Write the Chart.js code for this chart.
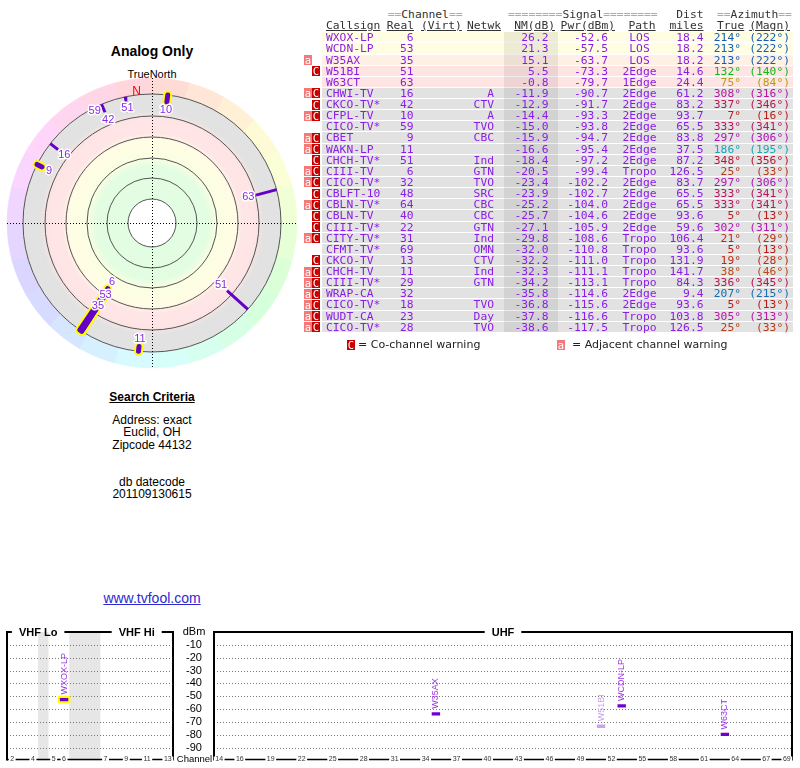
<!DOCTYPE html>
<html>
<head>
<meta charset="utf-8">
<title>Analog Only</title>
<script src="https://cdn.jsdelivr.net/npm/chart.js@4.4.1/dist/chart.umd.min.js"></script>
<style>
  body { margin: 0; background: #fff; font-family: "Liberation Sans", Arial, sans-serif; color: #000; }
  #page { position: relative; width: 800px; height: 768px; overflow: hidden; }
  .abs { position: absolute; white-space: pre; }
  .mid { position: absolute; left: 2px; width: 300px; text-align: center; white-space: pre; }
  canvas { position: absolute; }
  .mono { font-family: "DejaVu Sans Mono", monospace; font-size: 11.3px; line-height: 11.13px; }
  .box { position: absolute; width: 8px; height: 10px; color: #fff; text-align: center;
         font-family: "DejaVu Sans Mono", monospace; font-size: 10.5px; line-height: 10px; }
</style>
</head>
<body>
<div id="page">
  <div class="mid" style="top:43px;font-size:14px;font-weight:bold;line-height:16px">Analog Only</div>
  <div class="mid" style="top:68px;font-size:11px;line-height:13px">TrueNorth</div>
  <canvas id="polarChart" width="300" height="300" style="left:2px;top:73px"></canvas>

  <div class="mid" style="top:390px;font-size:12px;font-weight:bold;line-height:14px;text-decoration:underline">Search Criteria</div>
  <div class="mid" style="top:414px;font-size:12px;line-height:12.3px">Address: exact
Euclid, OH
Zipcode 44132</div>
  <div class="mid" style="top:475.5px;font-size:12px;line-height:12px">db datecode
201109130615</div>
  <div class="mid" style="top:590px;font-size:14px;line-height:16px;color:#2a2ad0;text-decoration:underline">www.tvfool.com</div>

  <div id="table"></div>

  <canvas id="vhfChart" width="180" height="148" style="left:0;top:620px"></canvas>
  <canvas id="uhfChart" width="626" height="148" style="left:174px;top:620px"></canvas>
</div>

<script>
/* ============================================
   STATION DATA
============================================ */

const callsigns = ['WXOX-LP', 'WCDN-LP', 'W35AX', 'W51BI', 'W63CT', 'CHWI-TV', 'CKCO-TV*', 'CFPL-TV', 'CICO-TV*',
    'CBET', 'WAKN-LP', 'CHCH-TV*', 'CIII-TV', 'CICO-TV*', 'CBLFT-10', 'CBLN-TV*', 'CBLN-TV', 'CIII-TV*',
    'CITY-TV*', 'CFMT-TV*', 'CKCO-TV', 'CHCH-TV', 'CIII-TV*', 'WRAP-CA', 'CICO-TV*', 'WUDT-CA', 'CICO-TV*'];
const realChannels = [6, 53, 35, 51, 63, 16, 42, 10, 59, 9, 11, 51, 6, 32, 48, 64, 40, 22, 31, 69, 13, 11, 29, 32, 18, 23, 28];
const networks = ['', '', '', '', '', 'A', 'CTV', 'A', 'TVO', 'CBC', '', 'Ind', 'GTN', 'TVO', 'SRC', 'CBC', 'CBC',
    'GTN', 'Ind', 'OMN', 'CTV', 'Ind', 'GTN', '', 'TVO', 'Day', 'TVO'];
const nmDb = [26.2, 21.3, 15.1, 5.5, -0.8, -11.9, -12.9, -14.4, -15.0, -15.9, -16.6, -18.4, -20.5, -23.4, -23.9,
    -25.2, -25.7, -27.1, -29.8, -32.0, -32.2, -32.3, -34.2, -35.8, -36.8, -37.8, -38.6];
const pwrDbm = [-52.6, -57.5, -63.7, -73.3, -79.7, -90.7, -91.7, -93.3, -93.8, -94.7, -95.4, -97.2, -99.4, -102.2,
    -102.7, -104.0, -104.6, -105.9, -108.6, -110.8, -111.0, -111.1, -113.1, -114.6, -115.6, -116.6, -117.5];
const paths = ['LOS', 'LOS', 'LOS', '2Edge', '1Edge', '2Edge', '2Edge', '2Edge', '2Edge', '2Edge', '2Edge', '2Edge',
    'Tropo', '2Edge', '2Edge', '2Edge', '2Edge', '2Edge', 'Tropo', 'Tropo', 'Tropo', 'Tropo', 'Tropo', '2Edge',
    '2Edge', 'Tropo', 'Tropo'];
const distMiles = [18.4, 18.2, 18.2, 14.6, 24.4, 61.2, 83.2, 93.7, 65.5, 83.8, 37.5, 87.2, 126.5, 83.7, 65.5, 65.5,
    93.6, 59.6, 106.4, 93.6, 131.9, 141.7, 84.3, 9.4, 93.6, 103.8, 126.5];
const azTrue = [214, 213, 213, 132, 75, 308, 337, 7, 333, 297, 186, 348, 25, 297, 333, 333, 5, 302, 21, 5, 19, 38,
    336, 207, 5, 305, 25];
const azMagn = [222, 222, 222, 140, 84, 316, 346, 16, 341, 306, 195, 356, 33, 306, 341, 341, 13, 311, 29, 13, 28,
    46, 345, 215, 13, 313, 33];
const warnings = ['', '', 'a', 'C', '', 'aC', 'C', 'aC', '', 'aC', 'aC', 'C', 'aC', 'aC', 'C', 'aC', 'C', 'C', 'aC',
    '', 'C', 'aC', 'aC', 'aC', 'aC', 'aC', 'aC'];
const analog = [1, 1, 1, 0, 0, 0, 0, 1, 0, 1, 1, 0, 0, 0, 0, 0, 0, 0, 0, 0, 0, 0, 0, 0, 0, 0, 0];

// spectrum panels
const vhfSlots = ['2', '3', '4', '', '5', '6', '', '', '', '7', '8', '9', '10', '11', '12', '13'];
const vhfTicks = ['2', '4', '5', '6', '7', '9', '11', '13'];
const uhfTicks = [14, 16, 19, 22, 25, 28, 31, 34, 37, 40, 43, 46, 49, 52, 55, 58, 61, 64, 67, 69];
const dbmTicks = [-10, -20, -30, -40, -50, -60, -70, -80, -90];
const specHalo = ['WXOX-LP'];

/* ============================================
   TABLE
============================================ */

const ROW_TOP = 32.3;
const ROW_H = 11.13;
const TXT = '#8a1ee6';

function azColor(az) {
    // warm hues are pulled a little toward orange / gold
    const h = az < 150 ? az - 25 * Math.sin(Math.PI * az / 150) : az;
    return `hsl(${h.toFixed(0)}, 78%, 40%)`;
}

function rowBg(nm) {
    if (nm > 20) return '#fffee2';
    if (nm > 10) return '#fff0e4';
    if (nm > -2) return '#ffe4e4';
    return '#e2e2e2';
}

function span(parent, text, x, top, align, style) {
    const s = document.createElement('div');
    s.className = 'abs mono';
    s.textContent = text;
    s.style.top = top + 'px';
    if (align === 'left') {
        s.style.left = x + 'px';
    } else if (align === 'right') {
        s.style.left = (x - 150) + 'px';
        s.style.width = '150px';
        s.style.textAlign = 'right';
    } else {
        s.style.left = (x - 75) + 'px';
        s.style.width = '150px';
        s.style.textAlign = 'center';
    }
    Object.assign(s.style, style || {});
    parent.appendChild(s);
    return s;
}

function buildTable() {
    const t = document.getElementById('table');

    // header line 1
    const h1 = 8.8;
    const dark = { color: '#333' };
    const c1 = span(t, '', 387.7, h1, 'left');
    c1.innerHTML = '<span style="color:#aaa">==</span><span style="color:#333">Channel</span><span style="color:#aaa">==</span>';
    const c2 = span(t, '', 508, h1, 'left');
    c2.innerHTML = '<span style="color:#aaa">========</span><span style="color:#333">Signal</span><span style="color:#aaa">========</span>';
    span(t, 'Dist', 703.5, h1, 'right', dark);
    const c3 = span(t, '', 717, h1, 'left');
    c3.innerHTML = '<span style="color:#aaa">==</span><span style="color:#333">Azimuth</span><span style="color:#aaa">==</span>';

    // header line 2
    const h2 = 19.8;
    const ul = { color: '#333', textDecoration: 'underline' };
    span(t, 'Callsign', 326, h2, 'left', ul);
    span(t, 'Real', 414, h2, 'right', ul);
    span(t, '(Virt)', 421, h2, 'left', ul);
    span(t, 'Netwk', 501, h2, 'right', ul);
    span(t, 'NM(dB)', 555, h2, 'right', ul);
    span(t, 'Pwr(dBm)', 615, h2, 'right', ul);
    span(t, 'Path', 642, h2, 'center', ul);
    span(t, 'miles', 703.5, h2, 'right', ul);
    span(t, 'True', 717, h2, 'left', ul);
    span(t, '(Magn)', 790, h2, 'right', ul);

    // row backgrounds
    callsigns.forEach((cs, i) => {
        const bg = document.createElement('div');
        bg.className = 'abs';
        Object.assign(bg.style, {
            left: '322px', width: '471px', top: (ROW_TOP + i * ROW_H) + 'px',
            height: (ROW_H - 1) + 'px', background: rowBg(nmDb[i])
        });
        t.appendChild(bg);
    });

    // NM column shading
    const sh = document.createElement('div');
    sh.className = 'abs';
    Object.assign(sh.style, {
        left: '504px', width: '54px', top: ROW_TOP + 'px',
        height: (callsigns.length * ROW_H - 1) + 'px', background: 'rgba(0,0,0,0.07)'
    });
    t.appendChild(sh);

    // row text + warning boxes
    callsigns.forEach((cs, i) => {
        const top = ROW_TOP + i * ROW_H;
        const st = { color: TXT };
        span(t, cs, 326, top, 'left', st);
        span(t, String(realChannels[i]), 413.5, top, 'right', st);
        span(t, networks[i], 494, top, 'right', st);
        span(t, nmDb[i].toFixed(1), 548.5, top, 'right', st);
        span(t, pwrDbm[i].toFixed(1), 608, top, 'right', st);
        span(t, paths[i], 639.5, top, 'center', st);
        span(t, distMiles[i].toFixed(1), 703.5, top, 'right', st);
        span(t, azTrue[i] + '\u00b0', 741, top, 'right', { color: azColor(azTrue[i]) });
        span(t, '(' + azMagn[i] + '\u00b0)', 790, top, 'right', { color: azColor(azTrue[i]) });

        if (warnings[i].includes('a')) addBox(t, 'a', 304, top + 0.5, '#f47a7a');
        if (warnings[i].includes('C')) addBox(t, 'C', 312, top + 0.5, '#c80000');
    });

    // legend
    addBox(t, 'C', 347, 340, '#c80000');
    legendText(t, '= Co-channel warning', 358);
    addBox(t, 'a', 557, 340, '#f47a7a');
    legendText(t, '= Adjacent channel warning', 572);
}

function addBox(parent, letter, x, top, color) {
    const b = document.createElement('div');
    b.className = 'box';
    b.textContent = letter;
    Object.assign(b.style, { left: x + 'px', top: top + 'px', background: color });
    parent.appendChild(b);
}

function legendText(parent, text, x) {
    const d = document.createElement('div');
    d.className = 'abs';
    d.textContent = text;
    Object.assign(d.style, {
        left: x + 'px', top: '338px', fontFamily: '"DejaVu Sans", sans-serif',
        fontSize: '11px', lineHeight: '14px', color: '#222'
    });
    parent.appendChild(d);
}

buildTable();

/* ============================================
   POLAR PLOT (Chart.js scatter, units = px)
============================================ */

const R_OUTER = 129;
const RING_EDGE = 145;
const PWR_FLOOR = -100;
const PX_PER_DB = 1.05;
const WHEEL_STEP = 15;
const ringRadii = [24, 45, 65, 86, 107, 129];
const bandStops = [[0, '#ffffff'], [23.5, '#ffffff'], [24, '#e2fde2'], [56, '#e2fde2'], [66, '#fbfee2'],
    [83, '#fffde4'], [90, '#ffe6e6'], [104, '#ffe4e4'], [112, '#e2e2e2'], [129, '#e2e2e2']];

function polarXY(az, r) {
    const a = az * Math.PI / 180;
    return { x: r * Math.sin(a), y: r * Math.cos(a) };
}

function innerRadius(i) {
    return R_OUTER - (pwrDbm[i] - PWR_FLOOR) * PX_PER_DB;
}

const polarIdx = nmDb.map((v, i) => i).filter(i => nmDb[i] > -20);

const polarSets = [];
polarIdx.forEach(i => {
    const pts = [polarXY(azTrue[i], R_OUTER), polarXY(azTrue[i], innerRadius(i))];
    if (analog[i]) {
        polarSets.push({
            data: pts, showLine: true, borderColor: '#ffff00', borderWidth: 9,
            borderCapStyle: 'round', pointRadius: 0, order: 2
        });
    }
    polarSets.push({
        data: pts, showLine: true, borderColor: '#6400c8', borderWidth: analog[i] ? 5 : 3,
        borderCapStyle: analog[i] ? 'round' : 'butt', pointRadius: 0, order: 1
    });
});

// label radii, pushed outward when two labels collide
const polarLabels = polarIdx.map(i => ({ i, az: azTrue[i], r: innerRadius(i) - 8 }))
    .sort((a, b) => a.r - b.r);
(function placeLabels() {
    const placed = [];
    polarLabels.forEach(L => {
        let moved = true;
        while (moved) {
            moved = false;
            for (const P of placed) {
                const a = polarXY(L.az, L.r), b = polarXY(P.az, P.r);
                if (Math.hypot(a.x - b.x, a.y - b.y) < 12) {
                    L.r = P.r + 14;
                    moved = true;
                }
            }
        }
        placed.push(L);
    });
})();

const polarBackdrop = {
    id: 'polarBackdrop',
    beforeDatasetsDraw(chart) {
        const { ctx, scales: { x, y } } = chart;
        const cx = x.getPixelForValue(0), cy = y.getPixelForValue(0);
        const k = x.getPixelForValue(1) - cx;
        ctx.save();

        // compass colour wheel
        for (let az = 0; az < 360; az += WHEEL_STEP) {
            const a0 = (az - 90) * Math.PI / 180;
            const a1 = (az + WHEEL_STEP - 90) * Math.PI / 180;
            const col = `hsl(${az + WHEEL_STEP / 2}, 100%, 92%)`;
            ctx.beginPath();
            ctx.arc(cx, cy, RING_EDGE * k, a0, a1);
            ctx.arc(cx, cy, R_OUTER * k, a1, a0, true);
            ctx.closePath();
            ctx.fillStyle = col;
            ctx.strokeStyle = col;
            ctx.lineWidth = 0.6;
            ctx.fill();
            ctx.stroke();
        }

        // signal bands
        const g = ctx.createRadialGradient(cx, cy, 0, cx, cy, R_OUTER * k);
        bandStops.forEach(([r, c]) => g.addColorStop(r / R_OUTER, c));
        ctx.beginPath();
        ctx.arc(cx, cy, R_OUTER * k, 0, 2 * Math.PI);
        ctx.fillStyle = g;
        ctx.fill();

        // range rings
        ctx.strokeStyle = '#555';
        ctx.lineWidth = 1;
        ringRadii.forEach(r => {
            ctx.beginPath();
            ctx.arc(cx, cy, r * k, 0, 2 * Math.PI);
            ctx.stroke();
        });

        // dotted cross
        ctx.strokeStyle = '#000';
        ctx.setLineDash([1, 2]);
        ctx.beginPath();
        ctx.moveTo(Math.round(cx) + 0.5, cy - RING_EDGE * k);
        ctx.lineTo(Math.round(cx) + 0.5, cy + RING_EDGE * k);
        ctx.moveTo(cx - RING_EDGE * k, Math.round(cy) + 0.5);
        ctx.lineTo(cx + RING_EDGE * k, Math.round(cy) + 0.5);
        ctx.stroke();
        ctx.setLineDash([]);

        // north marker
        ctx.fillStyle = '#ff0000';
        ctx.font = '12px "Liberation Sans"';
        ctx.textAlign = 'center';
        ctx.textBaseline = 'middle';
        ctx.fillText('N', cx - 15.5 * k, cy - 131.5 * k);
        ctx.restore();
    },
    afterDatasetsDraw(chart) {
        const { ctx, scales: { x, y } } = chart;
        ctx.save();
        ctx.font = '11px "Liberation Sans"';
        ctx.textAlign = 'center';
        ctx.textBaseline = 'middle';
        ctx.lineJoin = 'round';
        polarLabels.forEach(L => {
            const p = polarXY(L.az, L.r);
            const px = x.getPixelForValue(p.x), py = y.getPixelForValue(p.y);
            const txt = String(realChannels[L.i]);
            ctx.strokeStyle = '#ffffff';
            ctx.lineWidth = 3;
            ctx.strokeText(txt, px, py);
            ctx.fillStyle = '#8a2be2';
            ctx.fillText(txt, px, py);
        });
        ctx.restore();
    }
};

new Chart(document.getElementById('polarChart'), {
    type: 'scatter',
    data: { datasets: polarSets },
    options: {
        responsive: false,
        animation: false,
        events: [],
        layout: { padding: 0, autoPadding: false },
        scales: {
            x: { type: 'linear', min: -150, max: 150, display: false },
            y: { type: 'linear', min: -150, max: 150, display: false }
        },
        plugins: { legend: { display: false }, tooltip: { enabled: false } }
    },
    plugins: [polarBackdrop]
});

/* ============================================
   SPECTRUM PANELS
============================================ */

const specIdx = nmDb.map((v, i) => i).filter(i => nmDb[i] > -5);

function vhfX(ch) {
    return vhfSlots.indexOf(String(ch)) + 0.5;
}

function specSets(isVhf) {
    const sets = [];
    specIdx.forEach(i => {
        const ch = realChannels[i];
        if ((ch <= 13) !== isVhf) return;
        const pt = [{ x: isVhf ? vhfX(ch) : ch, y: pwrDbm[i] }];
        const faded = warnings[i].includes('C');
        const col = faded ? '#c9a3ee' : '#7000cc';
        if (specHalo.includes(callsigns[i])) {
            sets.push({
                data: pt, pointStyle: 'line', pointRadius: 6.3, pointBorderWidth: 7,
                pointBorderColor: '#ffff00', order: 2
            });
        }
        sets.push({
            data: pt, pointStyle: 'line', pointRadius: 4.2, pointBorderWidth: 3.4,
            pointBorderColor: col, order: 1, stationLabel: callsigns[i],
            labelColor: faded ? '#c9a3ee' : '#9a33e6'
        });
    });
    return sets;
}

function gapRanges() {
    const out = [];
    vhfSlots.forEach((s, i) => {
        if (s !== '') return;
        const last = out[out.length - 1];
        if (last && last[1] === i) last[1] = i + 1;
        else out.push([i, i + 1]);
    });
    return out;
}

const spectrumFrame = {
    id: 'spectrumFrame',
    beforeDatasetsDraw(chart, args, opts) {
        const { ctx, chartArea: a, scales: { x, y } } = chart;
        ctx.save();
        ctx.fillStyle = '#e6e6e6';
        (opts.shaded || []).forEach(([from, to]) => {
            const x0 = x.getPixelForValue(from), x1 = x.getPixelForValue(to);
            ctx.fillRect(x0, a.top, x1 - x0, a.bottom - a.top);
        });
        ctx.strokeStyle = '#777';
        ctx.lineWidth = 1;
        ctx.setLineDash([1, 2]);
        dbmTicks.forEach(v => {
            const py = Math.round(y.getPixelForValue(v)) + 0.5;
            ctx.beginPath();
            ctx.moveTo(a.left, py);
            ctx.lineTo(a.right, py);
            ctx.stroke();
        });
        ctx.restore();
    },
    afterDatasetsDraw(chart, args, opts) {
        const { ctx, chartArea: a, scales: { x, y } } = chart;
        ctx.save();

        // station names, rotated above each marker
        ctx.font = '9px "Liberation Sans"';
        ctx.textAlign = 'left';
        ctx.textBaseline = 'middle';
        chart.data.datasets.forEach((ds, di) => {
            if (!ds.stationLabel) return;
            const el = chart.getDatasetMeta(di).data[0];
            ctx.save();
            ctx.translate(el.x, el.y - 5);
            ctx.rotate(-Math.PI / 2);
            ctx.fillStyle = ds.labelColor;
            ctx.fillText(ds.stationLabel, 0, 0);
            ctx.restore();
        });

        // frame sides
        ctx.strokeStyle = '#000';
        ctx.lineWidth = 2;
        ctx.beginPath();
        ctx.moveTo(a.left, a.top);
        ctx.lineTo(a.left, a.bottom);
        ctx.moveTo(a.right, a.top);
        ctx.lineTo(a.right, a.bottom);
        ctx.stroke();

        // top edge broken by the band titles
        ctx.font = 'bold 11px "Liberation Sans"';
        ctx.textAlign = 'center';
        ctx.textBaseline = 'middle';
        let cur = a.left - 1;
        opts.titles.forEach(t => {
            const tx = x.getPixelForValue(t.at);
            const w = ctx.measureText(t.text).width;
            ctx.beginPath();
            ctx.moveTo(cur, a.top);
            ctx.lineTo(tx - w / 2 - 7, a.top);
            ctx.stroke();
            ctx.fillStyle = '#000';
            ctx.fillText(t.text, tx, a.top + 0.5);
            cur = tx + w / 2 + 7;
        });
        ctx.beginPath();
        ctx.moveTo(cur, a.top);
        ctx.lineTo(a.right + 1, a.top);
        ctx.stroke();

        // channel axis
        const by = y.getPixelForValue(-100) - 1;
        ctx.lineWidth = 1.5;
        ctx.beginPath();
        ctx.moveTo(a.left, by);
        ctx.lineTo(a.right, by);
        ctx.stroke();
        ctx.font = '7px "Liberation Sans"';
        opts.ticks.forEach(tk => {
            const tx = x.getPixelForValue(tk.at);
            const w = ctx.measureText(tk.text).width;
            ctx.fillStyle = '#fff';
            ctx.fillRect(tx - w / 2 - 1.5, by - 3, w + 3, 6);
            ctx.fillStyle = '#333';
            ctx.fillText(tk.text, tx, by);
        });

        // dBm scale between the panels
        if (opts.dbmScale) {
            const lx = a.left - 20;
            ctx.fillStyle = '#000';
            ctx.font = '11px "Liberation Sans"';
            ctx.fillText('dBm', lx, a.top - 0.5);
            dbmTicks.forEach(v => ctx.fillText(String(v), lx, y.getPixelForValue(v)));
            ctx.font = '9.5px "Liberation Sans"';
            ctx.fillText('Channel', lx + 0.5, by);
        }
        ctx.restore();
    }
};

function specOptions(xMin, xMax, padding, frameOpts) {
    return {
        responsive: false,
        animation: false,
        events: [],
        layout: { padding, autoPadding: false },
        scales: {
            x: { type: 'linear', min: xMin, max: xMax, display: false },
            y: { type: 'linear', min: -100, max: 0, display: false }
        },
        plugins: {
            legend: { display: false },
            tooltip: { enabled: false },
            spectrumFrame: frameOpts
        }
    };
}

new Chart(document.getElementById('vhfChart'), {
    type: 'scatter',
    data: { datasets: specSets(true) },
    options: specOptions(0, vhfSlots.length, { left: 7, right: 7, top: 12, bottom: 7.5 }, {
        shaded: gapRanges(),
        titles: [{ text: 'VHF Lo', at: 3 }, { text: 'VHF Hi', at: 12.5 }],
        ticks: vhfTicks.map(t => ({ text: t, at: vhfX(t) })),
        dbmScale: false
    }),
    plugins: [spectrumFrame]
});

new Chart(document.getElementById('uhfChart'), {
    type: 'scatter',
    data: { datasets: specSets(false) },
    options: specOptions(13.5, 69.5, { left: 40, right: 8, top: 12, bottom: 7.5 }, {
        shaded: [],
        titles: [{ text: 'UHF', at: 41.5 }],
        ticks: uhfTicks.map(t => ({ text: String(t), at: t })),
        dbmScale: true
    }),
    plugins: [spectrumFrame]
});
</script>
</body>
</html>
